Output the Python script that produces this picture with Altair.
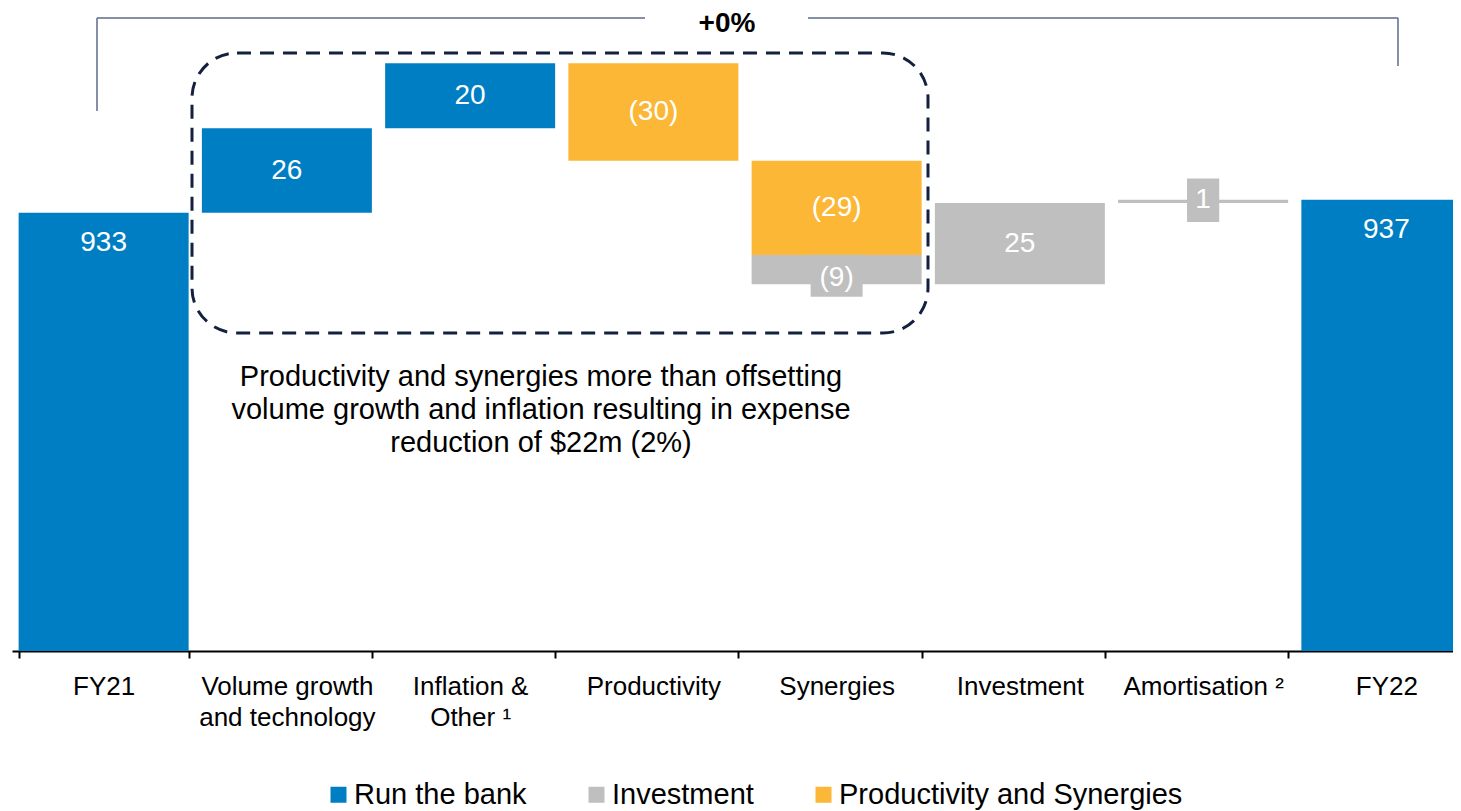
import altair as alt
import pandas as pd

# ---- data ----
categories = [
    "FY21",
    "Volume growth\nand technology",
    "Inflation &\nOther \u00b9",
    "Productivity",
    "Synergies",
    "Investment",
    "Amortisation \u00b2",
    "FY22",
]
seg_category = [
    "FY21",
    "Volume growth\nand technology",
    "Inflation &\nOther \u00b9",
    "Productivity",
    "Synergies",
    "Synergies",
    "Investment",
    "Amortisation \u00b2",
    "FY22",
]
seg_value = [933, 26, 20, -30, -29, -9, 25, 1, 937]
seg_is_total = [True, False, False, False, False, False, False, False, True]
seg_type = [
    "Run the bank",
    "Run the bank",
    "Run the bank",
    "Productivity and Synergies",
    "Productivity and Synergies",
    "Investment",
    "Investment",
    "Investment",
    "Run the bank",
]
legend_types = ["Run the bank", "Investment", "Productivity and Synergies"]
legend_colors = ["#007EC3", "#BFBFBF", "#FBB735"]

annotation_lines = [
    "Productivity and synergies more than offsetting",
    "volume growth and inflation resulting in expense",
    "reduction of $22m (2%)",
]
change_label = "+0%"

# ---- build waterfall table ----
rows = []
running = 0
for cat, v, tot, typ in zip(seg_category, seg_value, seg_is_total, seg_type):
    if tot:
        start, end = 0, v
        running = v
        label = str(v)
    else:
        start, end = running, running + v
        running = end
        label = f"({abs(v)})" if v < 0 else str(v)
    rows.append(dict(cat=cat, start=start, end=end, mid=(start + end) / 2,
                     type=typ, label=label, total=tot, value=v))
df = pd.DataFrame(rows)

FONT = "Liberation Sans"

x_enc = alt.X(
    "cat:N",
    sort=categories,
    scale=alt.Scale(domain=categories, range=[0, 1466], paddingInner=0.0723, paddingOuter=0.0362),
    axis=alt.Axis(
        title=None, labelAngle=0, labelFont=FONT, labelFontSize=26, labelColor="black",
        labelExpr="split(datum.label, '\\n')", labelLineHeight=31, labelLimit=0,
        labelPadding=15, labelBaseline="top",
        domainColor="black", domainWidth=2, tickColor="black", tickWidth=2, tickSize=7,
        tickBand="extent",
    ),
)
y_scale = alt.Scale(domain=[798.2, 996], nice=False, zero=False)

base = alt.Chart(df)

bars = base.mark_bar(clip=True).encode(
    x=x_enc,
    y=alt.Y("start:Q", scale=y_scale, axis=None),
    y2="end:Q",
    color=alt.Color(
        "type:N",
        scale=alt.Scale(domain=legend_types, range=legend_colors),
        legend=alt.Legend(
            orient="none", legendX=312, legendY=772, direction="horizontal", title=None,
            symbolType="square", symbolSize=256, symbolStrokeWidth=0, symbolOpacity=1,
            labelFont=FONT, labelFontSize=29, labelColor="black", labelOffset=1,
            columnPadding=55, padding=0, labelLimit=0,
        ),
    ),
)

txt_style = dict(font=FONT, fontSize=28, color="white", baseline="middle", align="center")

total_labels = base.transform_filter("datum.total").mark_text(dy=30, **txt_style).encode(
    x=alt.X("cat:N", sort=categories), y=alt.Y("end:Q"), text="label:N"
)
delta_labels = base.transform_filter("!datum.total && abs(datum.value) >= 10").mark_text(**txt_style).encode(
    x=alt.X("cat:N", sort=categories), y=alt.Y("mid:Q"), text="label:N"
)

# small segments get a grey tab behind their label
box9 = base.transform_filter("!datum.total && datum.value == -9").mark_point(
    shape="M-1,-0.57L1,-0.57L1,1.04L-1,1.04Z", size=2704, filled=True, opacity=1,
    color="#BFBFBF", strokeWidth=0,
).encode(x=alt.X("cat:N", sort=categories), y=alt.Y("mid:Q"))
lab9 = base.transform_filter("!datum.total && datum.value == -9").mark_text(dy=8, **txt_style).encode(
    x=alt.X("cat:N", sort=categories), y=alt.Y("mid:Q"), text="label:N"
)
box1 = base.transform_filter("!datum.total && datum.value == 1").mark_point(
    shape="M-0.7,-1L0.7,-1L0.7,0.9L-0.7,0.9Z", size=2116, filled=True, opacity=1,
    color="#BFBFBF", strokeWidth=0,
).encode(x=alt.X("cat:N", sort=categories), y=alt.Y("mid:Q"))
lab1 = base.transform_filter("!datum.total && datum.value == 1").mark_text(dy=-1, **txt_style).encode(
    x=alt.X("cat:N", sort=categories), y=alt.Y("mid:Q"), text="label:N"
)

one = alt.Data(values=[{"k": 1}])

dashed = alt.Chart(one).mark_rect(
    filled=False, stroke="#13213F", strokeWidth=3, strokeDash=[14, 9], cornerRadius=45
).encode(x=alt.value(180), x2=alt.value(916), y=alt.value(45), y2=alt.value(325))

note = alt.Chart(one).mark_text(
    font=FONT, fontSize=29, color="black", align="center", baseline="middle", lineHeight=33
).encode(x=alt.value(529), y=alt.value(369), text=alt.value(annotation_lines))

br_color = "#5A6B88"
br_left_v = alt.Chart(one).mark_rule(color=br_color, strokeWidth=1.5).encode(
    x=alt.value(85), y=alt.value(10), y2=alt.value(103))
br_left_h = alt.Chart(one).mark_rule(color=br_color, strokeWidth=1.5).encode(
    x=alt.value(85), x2=alt.value(633), y=alt.value(10))
br_right_h = alt.Chart(one).mark_rule(color=br_color, strokeWidth=1.5).encode(
    x=alt.value(796), x2=alt.value(1386), y=alt.value(10))
br_right_v = alt.Chart(one).mark_rule(color=br_color, strokeWidth=1.5).encode(
    x=alt.value(1386), y=alt.value(10), y2=alt.value(58))
change = alt.Chart(one).mark_text(
    font=FONT, fontSize=28, fontWeight="bold", color="black", align="center", baseline="middle"
).encode(x=alt.value(715), y=alt.value(16), text=alt.value(change_label))

chart = alt.layer(
    bars, total_labels, delta_labels, box9, lab9, box1, lab1,
    dashed, note, br_left_v, br_left_h, br_right_h, br_right_v, change,
).properties(
    width=1441, height=643,
    padding={"left": 4, "top": 0, "right": 0, "bottom": 170},
    autosize=alt.AutoSizeParams(type="none"),
).configure_view(stroke=None)

chart.save("out.html", embed_options={"renderer": "svg", "actions": False})
